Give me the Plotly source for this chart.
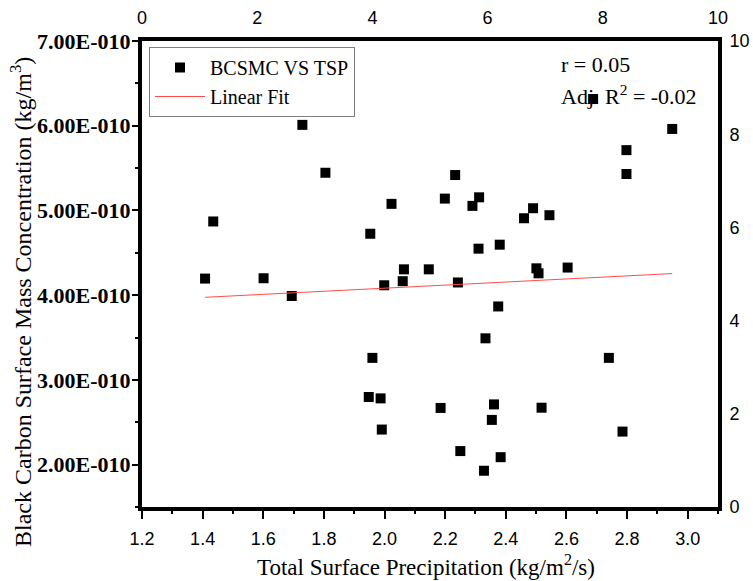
import plotly.graph_objects as go

# Data
tsp = [1.729, 1.805, 1.435, 2.233, 2.199, 2.023, 1.953, 1.408, 1.601, 2.064,
       2.146, 2.060, 1.999, 1.694, 2.242, 2.949, 2.798, 2.798, 2.312, 2.290,
       2.490, 2.460, 2.544, 2.310, 2.380, 2.501, 2.508, 2.604, 1.960, 1.948,
       1.987, 1.991, 2.185, 2.250, 2.375, 2.333, 2.740, 2.361, 2.354, 2.518,
       2.785, 2.383, 2.328, 2.688]
bcsmc = [6.01e-10, 5.445e-10, 4.87e-10, 5.418e-10, 5.14e-10, 5.078e-10, 4.725e-10, 4.196e-10, 4.20e-10, 4.305e-10,
         4.305e-10, 4.165e-10, 4.117e-10, 3.99e-10, 4.15e-10, 5.962e-10, 5.712e-10, 5.43e-10, 5.155e-10, 5.054e-10,
         5.026e-10, 4.908e-10, 4.944e-10, 4.549e-10, 4.596e-10, 4.317e-10, 4.258e-10, 4.326e-10, 3.26e-10, 2.798e-10,
         2.782e-10, 2.414e-10, 2.669e-10, 2.16e-10, 3.867e-10, 3.491e-10, 3.26e-10, 2.711e-10, 2.528e-10, 2.672e-10,
         2.39e-10, 2.088e-10, 1.928e-10, 6.315e-10]

fit_x = [1.408, 2.949]
fit_y = [3.975e-10, 4.255e-10]

y_tickvals = [2e-10, 3e-10, 4e-10, 5e-10, 6e-10, 7e-10]
y_ticktext = ["2.00E-010", "3.00E-010", "4.00E-010", "5.00E-010", "6.00E-010", "7.00E-010"]
x_tickvals = [1.2, 1.4, 1.6, 1.8, 2.0, 2.2, 2.4, 2.6, 2.8, 3.0]
x_ticktext = ["1.2", "1.4", "1.6", "1.8", "2.0", "2.2", "2.4", "2.6", "2.8", "3.0"]
sec_tickvals = [0, 2, 4, 6, 8, 10]

SERIF = "Liberation Serif"
SANS = "Liberation Sans"

W, H = 753, 581
ML, MR, MT, MB = 142, 35, 41, 74
PW, PH = W - ML - MR, H - MT - MB


def px(x):
    return (x - ML) / PW


def py(y):
    return (H - MB - y) / PH


fig = go.Figure()
fig.add_trace(go.Scatter(
    x=tsp, y=bcsmc, mode="markers", name="BCSMC VS TSP",
    marker=dict(symbol="square", size=10, color="black", line=dict(width=0)),
))
fig.add_trace(go.Scatter(
    x=fit_x, y=fit_y, mode="lines", name="Linear Fit",
    line=dict(color="#ff4d4d", width=1),
))

fig.update_layout(
    width=W, height=H,
    margin=dict(l=ML, r=MR, t=MT, b=MB, pad=0, autoexpand=False),
    paper_bgcolor="white", plot_bgcolor="white",
    showlegend=True,
    legend=dict(
        x=px(149), y=py(47), xanchor="left", yanchor="top",
        bgcolor="white", bordercolor="#808080", borderwidth=1,
        font=dict(family=SERIF, size=20, color="black"),
        tracegroupgap=0, itemsizing="trace", itemwidth=50,
    ),
    xaxis=dict(
        range=[1.2, 3.1], tickvals=x_tickvals, ticktext=x_ticktext,
        showgrid=False, zeroline=False, automargin=False,
        showline=True, linecolor="black", linewidth=4,
        ticks="outside", ticklen=8, tickwidth=2, tickcolor="black",
        minor=dict(dtick=0.1, tick0=1.2, ticks="outside", ticklen=3, tickwidth=2, tickcolor="black"),
        tickfont=dict(family=SANS, size=18, color="black"),
        ticklabelstandoff=4,
    ),
    yaxis=dict(
        range=[1.5e-10, 7e-10], tickvals=y_tickvals, ticktext=y_ticktext,
        showgrid=False, zeroline=False, automargin=False,
        showline=True, linecolor="black", linewidth=4,
        ticks="outside", ticklen=6, tickwidth=2, tickcolor="black",
        minor=dict(dtick=0.5e-10, tick0=1.5e-10, ticks="outside", ticklen=3, tickwidth=2, tickcolor="black"),
        tickfont=dict(family=SERIF, size=22, color="black", weight="bold"),
        ticklabelstandoff=-3,
    ),
    xaxis2=dict(
        overlaying="x", side="top", range=[0, 10], tickvals=sec_tickvals,
        showgrid=False, zeroline=False, automargin=False,
        showline=True, linecolor="black", linewidth=4,
        ticks="outside", ticklen=6, tickcolor="rgba(0,0,0,0)",
        tickfont=dict(family=SANS, size=18, color="black"),
    ),
    yaxis2=dict(
        overlaying="y", side="right", range=[0, 10], tickvals=sec_tickvals,
        showgrid=False, zeroline=False, automargin=False,
        showline=True, linecolor="black", linewidth=4,
        ticks="outside", ticklen=4, tickcolor="rgba(0,0,0,0)",
        tickfont=dict(family=SANS, size=18, color="black"),
    ),
)

# invisible trace to activate secondary axes
fig.add_trace(go.Scatter(x=[None], y=[None], xaxis="x2", yaxis="y2",
                         showlegend=False, hoverinfo="skip"))

fig.add_annotation(
    text="Black Carbon Surface Mass Concentration (kg/m<sup>3</sup>)",
    xref="paper", yref="paper", x=px(21), y=py(302), textangle=-90,
    xanchor="center", yanchor="middle",
    showarrow=False, font=dict(family=SERIF, size=24, color="black"),
)
fig.add_annotation(
    text="Total Surface Precipitation (kg/m<sup>2</sup>/s)",
    xref="paper", yref="paper", x=px(426), y=py(565),
    xanchor="center", yanchor="middle",
    showarrow=False, font=dict(family=SERIF, size=23, color="black"),
)
fig.add_annotation(
    text="r = 0.05", xref="paper", yref="paper", x=px(559), y=py(64),
    xanchor="left", yanchor="middle", showarrow=False,
    font=dict(family=SERIF, size=22, color="black"),
)
fig.add_annotation(
    text="Adj. R<sup>2</sup> = -0.02", xref="paper", yref="paper", x=px(559), y=py(95),
    xanchor="left", yanchor="middle", showarrow=False,
    font=dict(family=SERIF, size=22, color="black"),
)

fig.write_html("out.html")
